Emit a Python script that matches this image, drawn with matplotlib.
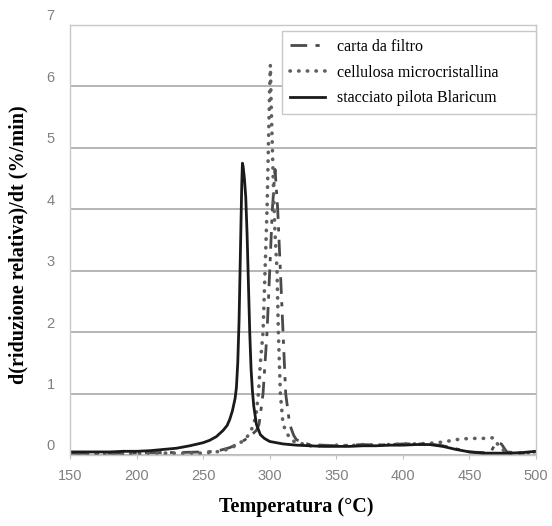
import matplotlib
matplotlib.use("Agg")
import matplotlib.pyplot as plt
import matplotlib.transforms as mtransforms

# temperature (°C) and d(riduzione relativa)/dt (%/min)
t_blaricum = [150, 160, 170, 180, 190, 200, 210, 220, 230, 240, 250, 255, 260, 265, 268,
              270, 272, 274, 275, 276, 277, 278, 279, 279.5, 280, 281, 282, 283, 284, 285,
              286, 287, 288, 290, 293, 296, 300, 310, 320, 330, 340, 350, 360, 370, 380,
              390, 400, 410, 420, 430, 440, 450, 460, 470, 480, 490, 500]
v_blaricum = [0.05, 0.05, 0.05, 0.05, 0.06, 0.06, 0.07, 0.09, 0.11, 0.15, 0.2, 0.24, 0.3, 0.4, 0.48,
              0.58, 0.72, 0.92, 1.1, 1.5, 2.2, 3.3, 4.4, 4.75, 4.7, 4.5, 4.2, 3.6, 2.8, 2.0,
              1.4, 1.05, 0.8, 0.5, 0.33, 0.27, 0.22, 0.18, 0.16, 0.15, 0.14, 0.14, 0.14, 0.15, 0.15,
              0.16, 0.16, 0.17, 0.17, 0.14, 0.09, 0.05, 0.03, 0.03, 0.03, 0.04, 0.06]

t_cellulosa = [150, 170, 190, 210, 230, 250, 260, 270, 278, 282, 285, 288, 290, 291.5, 293,
               295, 296.5, 298, 299, 300, 300.5, 301, 302, 303, 304, 305.5, 306.5, 308, 310,
               313, 316, 320, 325, 330, 340, 350, 360, 370, 380, 390, 400, 410, 420, 430,
               440, 450, 460, 468, 472, 478, 490, 500]
v_cellulosa = [0.02, 0.02, 0.02, 0.03, 0.03, 0.03, 0.05, 0.1, 0.2, 0.27, 0.35, 0.5, 0.7, 1.0, 1.5,
               2.0, 3.0, 4.0, 5.0, 6.0, 6.35, 5.8, 5.0, 4.2, 3.6, 3.0, 2.0, 1.0, 0.5,
               0.35, 0.25, 0.2, 0.18, 0.15, 0.15, 0.16, 0.15, 0.17, 0.16, 0.17, 0.18, 0.18, 0.19, 0.21,
               0.25, 0.27, 0.27, 0.28, 0.15, 0.03, 0.03, 0.05]

t_carta = [150, 170, 190, 210, 230, 250, 260, 270, 278, 285, 290, 292, 295, 298, 300,
           302, 304, 306, 308, 310, 312, 315, 318, 320, 325, 330, 340, 350, 360, 370,
           380, 390, 400, 410, 420, 430, 440, 450, 460, 466, 470, 474, 478, 490, 500]
v_carta = [0.03, 0.03, 0.03, 0.04, 0.04, 0.05, 0.06, 0.12, 0.2, 0.3, 0.4, 0.5, 1.0, 2.0, 3.0,
           4.0, 4.65, 4.0, 3.0, 2.0, 1.0, 0.5, 0.32, 0.25, 0.2, 0.17, 0.16, 0.15, 0.16, 0.17,
           0.16, 0.17, 0.18, 0.18, 0.18, 0.15, 0.1, 0.05, 0.04, 0.05, 0.2, 0.18, 0.05, 0.03, 0.05]

x_ticks = [150, 200, 250, 300, 350, 400, 450, 500]
y_ticks = [0, 1, 2, 3, 4, 5, 6, 7]

fig = plt.figure(figsize=(5.52, 5.26), dpi=100)
ax = fig.add_axes([0.1268, 0.135, 0.8442, 0.8175])

ax.plot(t_carta, v_carta, color='#4a4a4a', lw=2.0, linestyle=(0, (6, 3, 1.5, 3)),
        label='carta da filtro')
ax.plot(t_cellulosa, v_cellulosa, color='#606060', lw=2.6, linestyle=(0, (0.1, 2.3)),
        dash_capstyle='round', label='cellulosa microcristallina')
ax.plot(t_blaricum, v_blaricum, color='#1a1a1a', lw=2.0, label='stacciato pilota Blaricum')

ax.set_xlim(150, 500)
ax.set_ylim(0, 7)
ax.set_xticks(x_ticks)
ax.set_yticks(y_ticks)

ax.grid(True, axis='y', color='#b0b0b0', lw=1.3)
ax.set_axisbelow(True)
for s in ax.spines.values():
    s.set_color('#c8c8c8')
    s.set_linewidth(1.0)

ax.tick_params(axis='x', length=3, color='#c0c0c0', pad=7, labelsize=10.5, labelcolor='#808080')
ax.tick_params(axis='y', length=0, pad=11, labelsize=10.5, labelcolor='#808080')
for lab in ax.get_xticklabels() + ax.get_yticklabels():
    lab.set_family('Liberation Sans')

# y labels sit a bit above their grid lines in the original
offset = mtransforms.ScaledTranslation(0, 0.1, fig.dpi_scale_trans)
for lab in ax.get_yticklabels():
    lab.set_transform(lab.get_transform() + offset)

ax.set_xlabel('Temperatura (°C)', family='Liberation Serif', fontweight='bold', fontsize=14.5)
ax.xaxis.set_label_coords(0.485, -0.098)
ax.set_ylabel('d(riduzione relativa)/dt (%/min)', family='Liberation Serif',
              fontweight='bold', fontsize=14.5)
ax.yaxis.set_label_coords(-0.09, 0.49)

# wide legend box, entries left-aligned with empty space on the right
leg = ax.legend(loc='upper left', bbox_to_anchor=(0.455, 0.78, 0.545, 0.206), mode='expand',
                prop={'family': 'Liberation Serif', 'size': 11.5},
                frameon=True, fancybox=False, edgecolor='#c8c8c8', framealpha=1,
                handlelength=2.2, handletextpad=0.75, labelspacing=0.6,
                borderpad=0.5, borderaxespad=0)
leg.get_frame().set_linewidth(1.0)

fig.savefig('out.png', dpi=100)
